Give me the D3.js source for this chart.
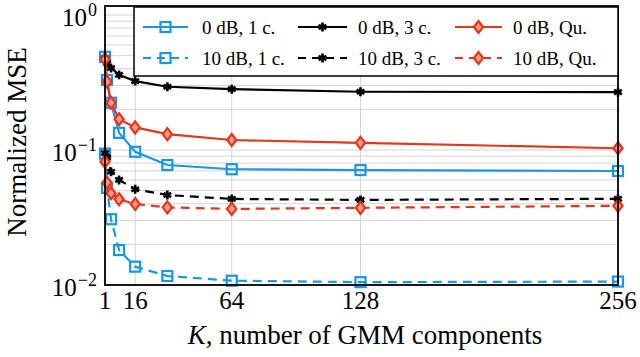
<!DOCTYPE html>
<html>
<head>
<meta charset="utf-8">
<script src="https://cdn.jsdelivr.net/npm/d3@7"></script>
<style>
  body { margin: 0; background: white; }
  svg { display: block; }
</style>
</head>
<body>
<svg id="chart"></svg>
<script>
// K values on the x axis
var kValues = [1, 2, 4, 8, 16, 32, 64, 128, 256]

// Normalized MSE
var mse0dB1c  = [0.49, 0.33, 0.224, 0.134, 0.097, 0.0774, 0.072, 0.071, 0.0699]
var mse0dB3c  = [0.48, 0.44, 0.405, 0.36, 0.324, 0.294, 0.282, 0.27, 0.268]
var mse0dBQu  = [0.47, 0.321, 0.224, 0.169, 0.147, 0.131, 0.1186, 0.113, 0.103]
var mse10dB1c = [0.094, 0.0524, 0.0307, 0.01815, 0.01367, 0.01166, 0.01076, 0.0105, 0.0106]
var mse10dB3c = [0.095, 0.088, 0.069, 0.060, 0.0512, 0.0464, 0.0434, 0.0427, 0.0435]
var mse10dBQu = [0.082, 0.0573, 0.0478, 0.0432, 0.0398, 0.0376, 0.0366, 0.0373, 0.0386]

var xTicks = [1, 16, 64, 128, 256]
var yTicks = [1e-2, 1e-1, 1e0]
var yTickExp = ["\u22122", "\u22121", "0"]

var seriesNames = ["0 dB, 1 c.", "0 dB, 3 c.", "0 dB, Qu.", "10 dB, 1 c.", "10 dB, 3 c.", "10 dB, Qu."]

var blue = "#1a96e8"
var red = "#e8341b"

var dimensions = {
    width: 640,
    height: 357,
    margin: { top: 6, bottom: 72, left: 105, right: 22 }
}

var series = [
    { name: seriesNames[0], values: mse0dB1c,  color: blue,    dash: null,  mark: "square" },
    { name: seriesNames[1], values: mse0dB3c,  color: "black", dash: null,  mark: "star" },
    { name: seriesNames[2], values: mse0dBQu,  color: red,     dash: null,  mark: "diamond" },
    { name: seriesNames[3], values: mse10dB1c, color: blue,    dash: "9,6", mark: "square" },
    { name: seriesNames[4], values: mse10dB3c, color: "black", dash: "9,6", mark: "star" },
    { name: seriesNames[5], values: mse10dBQu, color: red,     dash: "9,6", mark: "diamond" }
]

var svg = d3.select("#chart")
    .attr("width", dimensions.width)
    .attr("height", dimensions.height)
    .style("font-family", "'Liberation Serif', 'Times New Roman', serif")

var x0 = dimensions.margin.left
var x1 = dimensions.width - dimensions.margin.right
var y0 = dimensions.height - dimensions.margin.bottom
var y1 = dimensions.margin.top

var xScale = d3.scaleLinear()
    .domain([1, 256])
    .range([x0, x1])

var yScale = d3.scaleLog()
    .domain([0.01, 1.166])
    .range([y0, y1])

// minor + major grid lines
var gridG = svg.append("g")
var minorVals = []
;[-2, -1].forEach(p => {
    for (var m = 2; m <= 9; m++) minorVals.push(m * Math.pow(10, p))
})
gridG.selectAll(".ymin")
    .data(minorVals.concat([0.1, 1]))
    .enter()
    .append("line")
    .attr("x1", x0).attr("x2", x1)
    .attr("y1", d => yScale(d)).attr("y2", d => yScale(d))
    .attr("stroke", "#d4d4d4")
    .attr("stroke-width", 1)
gridG.selectAll(".xg")
    .data(xTicks.filter(d => d > 1 && d < 256))
    .enter()
    .append("line")
    .attr("x1", d => xScale(d)).attr("x2", d => xScale(d))
    .attr("y1", y0).attr("y2", y1)
    .attr("stroke", "#d4d4d4")
    .attr("stroke-width", 1)

// markers
function drawMark(g, type, color) {
    if (type == "square") {
        g.append("rect")
            .attr("x", -5).attr("y", -5)
            .attr("width", 10).attr("height", 10)
            .attr("fill", "none")
            .attr("stroke", color)
            .attr("stroke-width", 2.2)
    } else if (type == "diamond") {
        g.append("path")
            .attr("d", "M0,-6L4.6,0L0,6L-4.6,0Z")
            .attr("fill", "#f49a88")
            .attr("stroke", color)
            .attr("stroke-width", 2.2)
    } else {
        g.append("path")
            .attr("d", d3.symbol().type(d3.symbolAsterisk).size(55)())
            .attr("fill", "none")
            .attr("stroke", color)
            .attr("stroke-width", 2.6)
    }
}

var line = d3.line()
    .x(d => xScale(d[0]))
    .y(d => yScale(d[1]))

var plotG = svg.append("g")
series.forEach(s => {
    var pts = kValues.map((k, i) => [k, s.values[i]])
    plotG.append("path")
        .datum(pts)
        .attr("d", line)
        .attr("fill", "none")
        .attr("stroke", s.color)
        .attr("stroke-width", 2.2)
        .attr("stroke-dasharray", s.dash)
    pts.forEach(p => {
        var g = plotG.append("g")
            .attr("transform", `translate(${xScale(p[0])},${yScale(p[1])})`)
        drawMark(g, s.mark, s.color)
    })
})

// axis box
svg.append("rect")
    .attr("x", x0).attr("y", y1)
    .attr("width", x1 - x0).attr("height", y0 - y1)
    .attr("fill", "none")
    .attr("stroke", "black")
    .attr("stroke-width", 1.8)

// legend
var legX = 134, legY = 7, legW = x1 - 134, legH = 69
svg.append("rect")
    .attr("x", legX).attr("y", legY)
    .attr("width", legW).attr("height", legH)
    .attr("fill", "white")
    .attr("stroke", "black")
    .attr("stroke-width", 1.5)

var legCols = [
    { line: [143, 188], text: 202 },
    { line: [298, 347], text: 358 },
    { line: [455, 502], text: 513 }
]
var legRows = [27, 58]

series.forEach((s, i) => {
    var col = legCols[i % 3]
    var ry = legRows[Math.floor(i / 3)]
    svg.append("line")
        .attr("x1", col.line[0]).attr("x2", col.line[1])
        .attr("y1", ry).attr("y2", ry)
        .attr("stroke", s.color)
        .attr("stroke-width", 2.2)
        .attr("stroke-dasharray", s.dash ? "8,6" : null)
    var g = svg.append("g")
        .attr("transform", `translate(${(col.line[0] + col.line[1]) / 2},${ry})`)
    drawMark(g, s.mark, s.color)
    svg.append("text")
        .attr("x", col.text)
        .attr("y", ry + 7)
        .text(s.name)
        .style("font-size", "19px")
})

// x tick labels
svg.selectAll(".xt")
    .data(xTicks)
    .enter()
    .append("text")
    .attr("x", d => xScale(d))
    .attr("y", 309)
    .attr("text-anchor", "middle")
    .style("font-size", "25px")
    .text(d => d)

// y tick labels (10^n)
yTicks.forEach((v, i) => {
    var t = svg.append("text")
        .attr("x", 97)
        .attr("y", yScale(v) + 11)
        .attr("text-anchor", "end")
        .style("font-size", "25px")
    t.append("tspan").text("10")
    t.append("tspan")
        .attr("dx", 1)
        .attr("dy", -10)
        .style("font-size", "18px")
        .text(yTickExp[i])
})

// axis labels
var xl = svg.append("text")
    .attr("x", 365)
    .attr("y", 344)
    .attr("text-anchor", "middle")
    .style("font-size", "27px")
xl.append("tspan").style("font-style", "italic").text("K")
xl.append("tspan").text(", number of GMM components")

svg.append("text")
    .attr("transform", "translate(26,142) rotate(-90)")
    .attr("text-anchor", "middle")
    .style("font-size", "27px")
    .text("Normalized MSE")
</script>
</body>
</html>
